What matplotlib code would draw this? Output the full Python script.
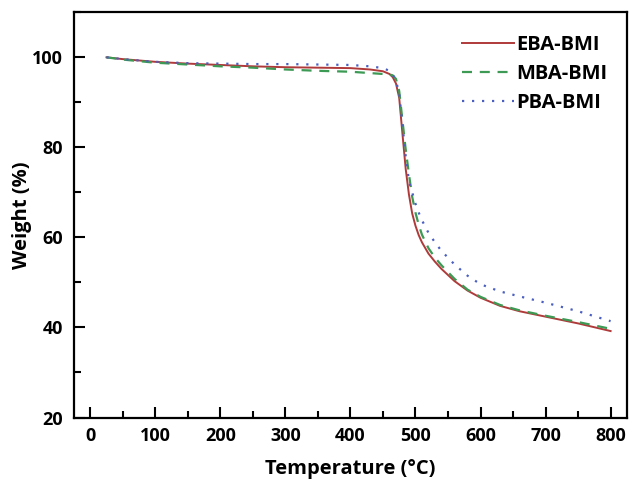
import numpy as np
import matplotlib
matplotlib.use('Agg')
from matplotlib import pyplot as plt
from matplotlib.ticker import MultipleLocator

plt.rcParams['font.family'] = ['Open Sans', 'DejaVu Sans']
plt.rcParams['font.weight'] = 'bold'

# TGA curves
temperature = [25, 50, 100, 150, 200, 250, 300, 350, 400, 430, 450, 460, 465, 470, 475,
               480, 485, 490, 495, 500, 505, 510, 520, 530, 540, 560, 580, 600, 630, 660, 700, 750, 800]
eba_bmi = [100, 99.6, 99.0, 98.6, 98.3, 98.0, 97.8, 97.7, 97.6, 97.3, 96.9, 96.3, 95.6, 94.2, 91.0,
           83.0, 75.2, 69.5, 65.3, 62.6, 60.5, 58.9, 56.4, 54.6, 53.0, 50.3, 48.2, 46.6, 44.8, 43.6, 42.4, 40.9, 39.2]
mba_bmi = [100, 99.5, 98.8, 98.4, 98.0, 97.7, 97.3, 97.0, 96.8, 96.5, 96.3, 96.2, 96.0, 95.2, 92.5,
           86.0, 79.5, 74.0, 69.0, 65.5, 62.8, 60.6, 57.6, 55.5, 53.8, 50.8, 48.4, 46.8, 45.0, 43.8, 42.6, 41.2, 39.7]
pba_bmi = [100, 99.6, 99.0, 98.7, 98.6, 98.5, 98.5, 98.4, 98.3, 98.0, 97.6, 97.0, 96.2, 94.8, 92.0,
           85.0, 78.0, 72.5, 70.0, 67.5, 65.5, 63.8, 61.0, 58.9, 57.0, 54.0, 51.5, 49.6, 48.0, 46.9, 45.5, 43.6, 41.4]

FS = 14.5
TICK_FS = 13

fig = plt.figure(figsize=(6.29, 4.82), dpi=100)
ax = fig.add_axes([0.1176, 0.1338, 0.879, 0.8407])

ax.plot(temperature, eba_bmi, color='#b03a3a', lw=1.4, label='EBA-BMI')
ax.plot(temperature, mba_bmi, color='#3c9a55', lw=1.6, ls=(0, (4.5, 3.5)), label='MBA-BMI')
ax.plot(temperature, pba_bmi, color='#4a5fc0', lw=1.6, ls=(0, (1, 3.5)), label='PBA-BMI')

ax.set_xlim(-25, 825)
ax.set_ylim(20, 110)
ax.xaxis.set_major_locator(MultipleLocator(100))
ax.xaxis.set_minor_locator(MultipleLocator(50))
ax.yaxis.set_major_locator(MultipleLocator(20))
ax.yaxis.set_minor_locator(MultipleLocator(10))
ax.tick_params(which='both', direction='in', width=1.5, labelsize=TICK_FS)
ax.tick_params(which='major', length=8)
ax.tick_params(which='minor', length=5)
ax.tick_params(axis='x', pad=7)
ax.tick_params(axis='y', pad=8)
for s in ax.spines.values():
    s.set_linewidth(1.6)

ax.set_xlabel('Temperature (°C)', fontsize=FS, fontweight='bold', labelpad=10)
ax.set_ylabel('Weight (%)', fontsize=FS, fontweight='bold', labelpad=0)

ax.legend(loc='upper right', frameon=False, fontsize=FS, handlelength=2.6,
          handletextpad=0.1, labelspacing=0.45, borderaxespad=0.4,
          bbox_to_anchor=(0.994, 0.983))

fig.savefig('out.png', dpi=100)
